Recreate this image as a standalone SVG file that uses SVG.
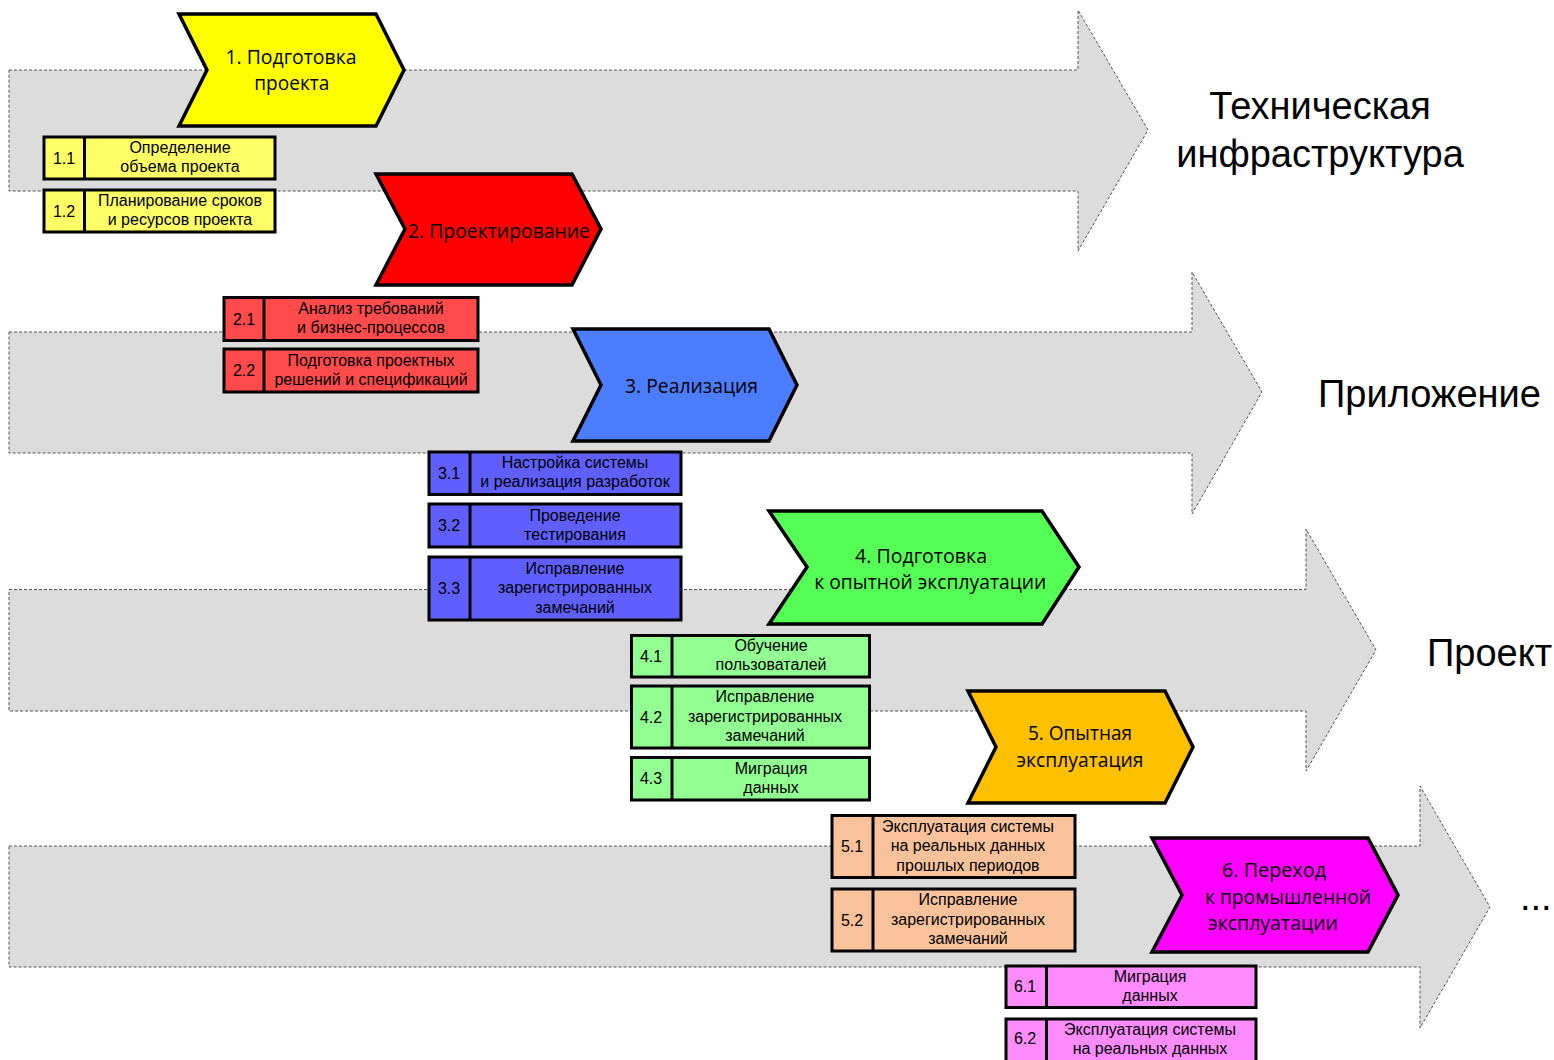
<svg xmlns="http://www.w3.org/2000/svg" width="1554" height="1060" viewBox="0 0 1554 1060">
<style>
.lane{fill:#dcdcdc;stroke:#555;stroke-width:1;stroke-dasharray:3 2}
.lbl{font-family:"Liberation Sans",Arial,sans-serif;font-size:38px;fill:#000}
.chev{stroke:#000;stroke-width:3.5;stroke-linejoin:miter}
.ct{font-family:"Open Sans","Noto Sans",sans-serif;font-size:20px;fill:#000}
.box{stroke:#000;stroke-width:3}
.div{stroke:#000;stroke-width:3}
.bt{font-family:"Liberation Sans",Arial,sans-serif;font-size:16px;fill:#000;text-anchor:middle}
.bn{font-family:"Liberation Sans",Arial,sans-serif;font-size:16px;fill:#000;text-anchor:middle}
.y{fill:#ffff66}.r{fill:#ff4b4b}.b{fill:#5f5fff}.g{fill:#93ff93}.o{fill:#f9c29b}.m{fill:#ff8cff}
</style>
<rect width="1554" height="1060" fill="#fff"/>
<g id="connectors">
<g id="lane-infra">
<polygon class="lane" points="9,70 1078,70 1078,10 1148,130 1078,251 1078,191 9,191"/>
<text class="lbl" x="1320" y="118.5" text-anchor="middle">Техническая</text>
<text class="lbl" x="1320" y="166.7" text-anchor="middle">инфраструктура</text>
</g>
<g id="lane-app">
<polygon class="lane" points="9,332 1192,332 1192,272 1262,392 1192,514 1192,453 9,453"/>
<text class="lbl" x="1318" y="406.7">Приложение</text>
</g>
<g id="lane-project">
<polygon class="lane" points="9,589.5 1306,589.5 1306,529 1376,650 1306,771 1306,711 9,711"/>
<text class="lbl" x="1427" y="666">Проект</text>
</g>
<g id="lane-more">
<polygon class="lane" points="9,846 1420,846 1420,786 1490,907 1420,1028 1420,967 9,967"/>
<text class="lbl" x="1520" y="910">...</text>
</g>
</g>

<g id="phase1">
<polygon class="chev" fill="#ffff00" points="179,14 376,14 404,70 376,126 179,126 207,70"/>
<text class="ct" x="225.5" y="63.5" textLength="131" lengthAdjust="spacingAndGlyphs">1. Подготовка</text>
<text class="ct" x="254.3" y="90" textLength="75" lengthAdjust="spacingAndGlyphs">проекта</text>
</g>
<g id="task1-1">
<rect class="box y" x="44" y="137" width="231" height="42"/>
<line class="div" x1="84.5" y1="137" x2="84.5" y2="179"/>
<text class="bn" x="64" y="163.5">1.1</text>
<text class="bt" x="180" y="153.3">Определение</text>
<text class="bt" x="180" y="172.3">объема проекта</text>
</g>
<g id="task1-2">
<rect class="box y" x="44" y="190" width="231" height="42"/>
<line class="div" x1="84.5" y1="190" x2="84.5" y2="232"/>
<text class="bn" x="64" y="216.5">1.2</text>
<text class="bt" x="180" y="206.3">Планирование сроков</text>
<text class="bt" x="180" y="225.3">и ресурсов проекта</text>
</g>

<g id="phase2">
<polygon class="chev" fill="#ff0000" points="376,174 572,174 601,229 572,285 376,285 405,229"/>
<text class="ct" x="408" y="237.5" textLength="182" lengthAdjust="spacingAndGlyphs">2. Проектирование</text>
</g>
<g id="task2-1">
<rect class="box r" x="224" y="297.5" width="254" height="43"/>
<line class="div" x1="264" y1="297.5" x2="264" y2="340.5"/>
<text class="bn" x="244" y="324.5">2.1</text>
<text class="bt" x="371" y="314.3">Анализ требований</text>
<text class="bt" x="371" y="333.3">и бизнес-процессов</text>
</g>
<g id="task2-2">
<rect class="box r" x="224" y="349" width="254" height="43"/>
<line class="div" x1="264" y1="349" x2="264" y2="392"/>
<text class="bn" x="244" y="376">2.2</text>
<text class="bt" x="371" y="365.8">Подготовка проектных</text>
<text class="bt" x="371" y="384.8">решений и спецификаций</text>
</g>

<g id="phase3">
<polygon class="chev" fill="#4d7dff" points="573,329 769,329 797,385 769,441 573,441 601,385"/>
<text class="ct" x="625" y="392.7" textLength="133" lengthAdjust="spacingAndGlyphs">3. Реализация</text>
</g>
<g id="task3-1">
<rect class="box b" x="429" y="452" width="252" height="42.5"/>
<line class="div" x1="470" y1="452" x2="470" y2="494.5"/>
<text class="bn" x="449" y="478.5">3.1</text>
<text class="bt" x="575" y="468.3">Настройка системы</text>
<text class="bt" x="575" y="487.3">и реализация разработок</text>
</g>
<g id="task3-2">
<rect class="box b" x="429" y="504" width="252" height="43"/>
<line class="div" x1="470" y1="504" x2="470" y2="547"/>
<text class="bn" x="449" y="531">3.2</text>
<text class="bt" x="575" y="520.8">Проведение</text>
<text class="bt" x="575" y="539.8">тестирования</text>
</g>
<g id="task3-3">
<rect class="box b" x="429" y="557" width="252" height="63"/>
<line class="div" x1="470" y1="557" x2="470" y2="620"/>
<text class="bn" x="449" y="594">3.3</text>
<text class="bt" x="575" y="573.5">Исправление</text>
<text class="bt" x="575" y="593.2">зарегистрированных</text>
<text class="bt" x="575" y="612.7">замечаний</text>
</g>

<g id="phase4">
<polygon class="chev" fill="#55ff55" points="769,511 1042,511 1079,567 1042,624 769,624 807,567"/>
<text class="ct" x="855" y="562.7" textLength="132" lengthAdjust="spacingAndGlyphs">4. Подготовка</text>
<text class="ct" x="814.3" y="589.3" textLength="232" lengthAdjust="spacingAndGlyphs">к опытной эксплуатации</text>
</g>
<g id="task4-1">
<rect class="box g" x="631.5" y="635.5" width="238" height="41.5"/>
<line class="div" x1="672" y1="635.5" x2="672" y2="677"/>
<text class="bn" x="651" y="661.5">4.1</text>
<text class="bt" x="771" y="651">Обучение</text>
<text class="bt" x="771" y="670">пользоваталей</text>
</g>
<g id="task4-2">
<rect class="box g" x="631.5" y="686" width="238" height="62"/>
<line class="div" x1="672" y1="686" x2="672" y2="748"/>
<text class="bn" x="651" y="722.5">4.2</text>
<text class="bt" x="765" y="702.3">Исправление</text>
<text class="bt" x="765" y="721.8">зарегистрированных</text>
<text class="bt" x="765" y="741.3">замечаний</text>
</g>
<g id="task4-3">
<rect class="box g" x="631.5" y="757.5" width="238" height="42.5"/>
<line class="div" x1="672" y1="757.5" x2="672" y2="800"/>
<text class="bn" x="651" y="784">4.3</text>
<text class="bt" x="771" y="773.8">Миграция</text>
<text class="bt" x="771" y="792.8">данных</text>
</g>

<g id="phase5">
<polygon class="chev" fill="#ffc000" points="968,691 1165,691 1193,747 1165,803 968,803 996,747"/>
<text class="ct" x="1028" y="740" textLength="104" lengthAdjust="spacingAndGlyphs">5. Опытная</text>
<text class="ct" x="1016.5" y="766.7" textLength="127" lengthAdjust="spacingAndGlyphs">эксплуатация</text>
</g>
<g id="task5-1">
<rect class="box o" x="832" y="815.5" width="243" height="62"/>
<line class="div" x1="873" y1="815.5" x2="873" y2="877.5"/>
<text class="bn" x="852" y="852">5.1</text>
<text class="bt" x="968" y="831.8">Эксплуатация системы</text>
<text class="bt" x="968" y="851.3">на реальных данных</text>
<text class="bt" x="968" y="870.8">прошлых периодов</text>
</g>
<g id="task5-2">
<rect class="box o" x="832" y="889" width="243" height="62"/>
<line class="div" x1="873" y1="889" x2="873" y2="951"/>
<text class="bn" x="852" y="925.5">5.2</text>
<text class="bt" x="968" y="905.3">Исправление</text>
<text class="bt" x="968" y="924.8">зарегистрированных</text>
<text class="bt" x="968" y="944.3">замечаний</text>
</g>

<g id="phase6">
<polygon class="chev" fill="#ff00ff" points="1152,838 1368,838 1398,895 1368,952 1152,952 1182,895"/>
<text class="ct" x="1222" y="877" textLength="104" lengthAdjust="spacingAndGlyphs">6. Переход</text>
<text class="ct" x="1205" y="903.5" textLength="166" lengthAdjust="spacingAndGlyphs">к промышленной</text>
<text class="ct" x="1208" y="930" textLength="130" lengthAdjust="spacingAndGlyphs">эксплуатации</text>
</g>
<g id="task6-1">
<rect class="box m" x="1006" y="966" width="250" height="41.5"/>
<line class="div" x1="1046.5" y1="966" x2="1046.5" y2="1007.5"/>
<text class="bn" x="1025" y="992">6.1</text>
<text class="bt" x="1150" y="981.8">Миграция</text>
<text class="bt" x="1150" y="1000.8">данных</text>
</g>
<g id="task6-2">
<rect class="box m" x="1006" y="1019" width="250" height="52"/>
<line class="div" x1="1046.5" y1="1019" x2="1046.5" y2="1071"/>
<text class="bn" x="1025" y="1043.5">6.2</text>
<text class="bt" x="1150" y="1034.8">Эксплуатация системы</text>
<text class="bt" x="1150" y="1053.8">на реальных данных</text>
</g>
</svg>
